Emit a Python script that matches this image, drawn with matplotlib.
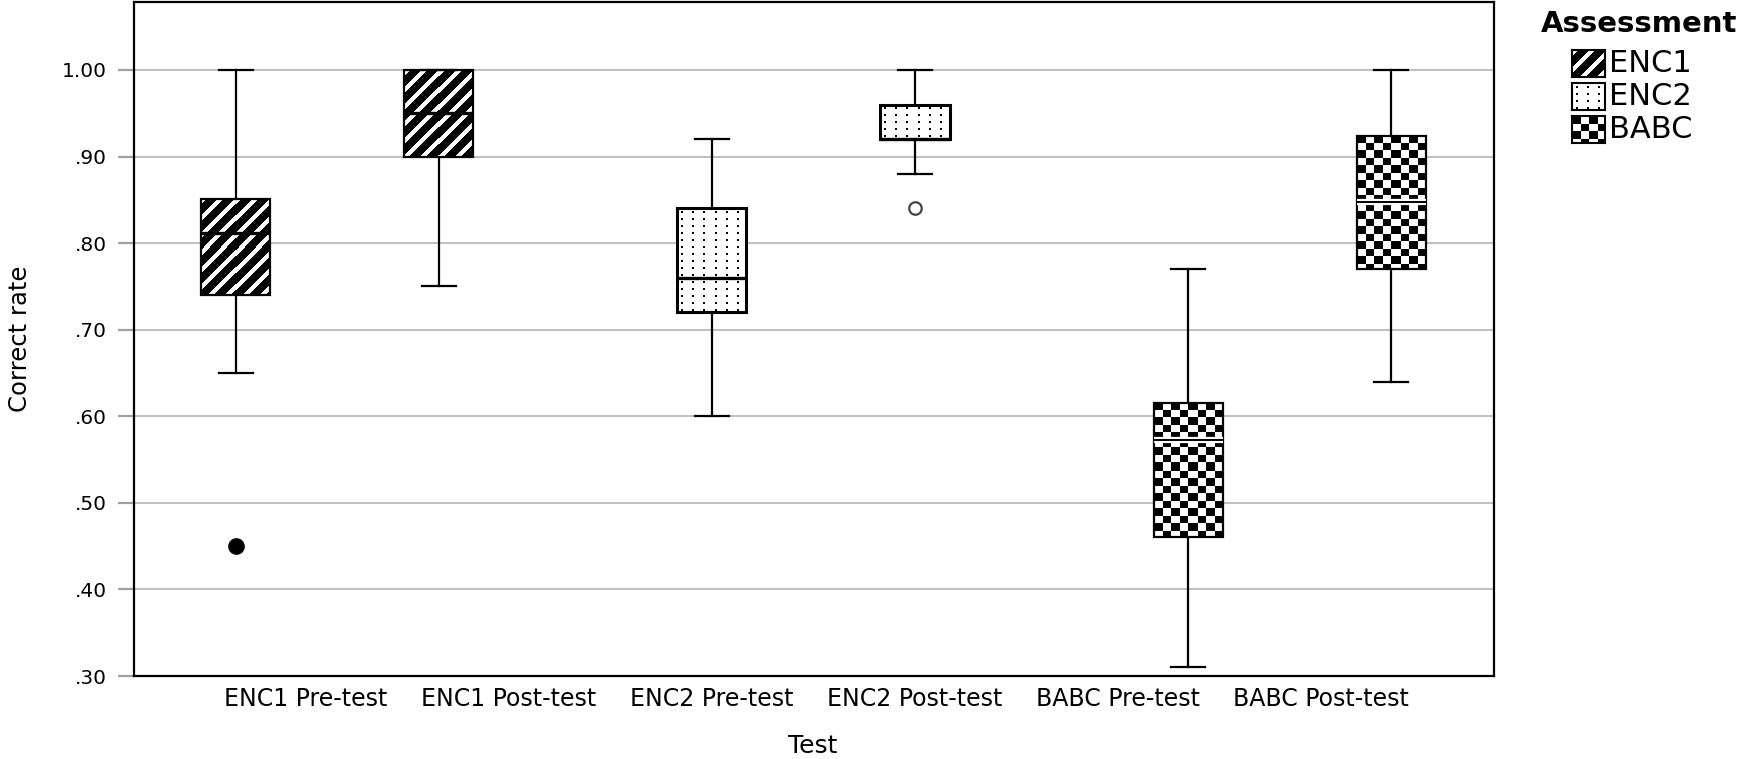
import numpy as np
import matplotlib
matplotlib.use("Agg")
import matplotlib.pyplot as plt
from matplotlib.ticker import FixedLocator, FuncFormatter
import matplotlib.patheffects as pe

# ---------------- data ----------------
tests = ["ENC1 Pre-test", "ENC1 Post-test", "ENC2 Pre-test",
         "ENC2 Post-test", "BABC Pre-test", "BABC Post-test"]
test_assessment = ["ENC1", "ENC1", "ENC2", "ENC2", "BABC", "BABC"]
assessments = ["ENC1", "ENC2", "BABC"]

whisker_low = [0.65, 0.75, 0.60, 0.88, 0.31, 0.64]
q1 = [0.74, 0.90, 0.72, 0.92, 0.46, 0.77]
median = [0.812, 0.95, 0.76, 0.92, 0.573, 0.847]
q3 = [0.851, 1.00, 0.84, 0.96, 0.615, 0.924]
whisker_high = [1.00, 1.00, 0.92, 1.00, 0.77, 1.00]
extreme_values = [[0.45], [], [], [], [], []]     # filled marker
outlier_values = [[], [], [], [0.84], [], []]     # open circle

y_ticks = [0.30, 0.40, 0.50, 0.60, 0.70, 0.80, 0.90, 1.00]

# ---------------- layout ----------------
W, H, DPI = 1741, 759, 100
plt.rcParams['font.family'] = ['DejaVu Sans']
fig = plt.figure(figsize=(W / DPI, H / DPI), dpi=DPI)
fig.patch.set_facecolor("white")
ax = fig.add_axes([134 / W, (H - 676) / H, (1494 - 134) / W, (676 - 2) / H])
XLIM = (-0.847, 5.852)
YLIM = (0.30, 1.0785)
ax.set_xlim(*XLIM)
ax.set_ylim(*YLIM)

offsets = {"ENC1": -0.345, "ENC2": 0.0, "BABC": 0.345}
box_w = 0.34


def texture(kind, w, h):
    yy, xx = np.mgrid[0:h, 0:w]
    if kind == "ENC1":
        arr = np.where(((xx + yy) % 17) < 6, 1.0, 0.0)
    elif kind == "ENC2":
        arr = np.ones((h, w))
        dots = (((xx - 4) % 11) < 2) & (((yy - 3) % 7) < 2)
        arr[dots] = 0.0
    else:
        arr = (((xx * 2 // 17) + (yy * 2 // 15)) % 2).astype(float)
    return arr


positions = [i + offsets[a] for i, a in enumerate(test_assessment)]

# textures inside the boxes
for i, a in enumerate(test_assessment):
    x0, x1 = positions[i] - box_w / 2, positions[i] + box_w / 2
    y0, y1 = q1[i], q3[i]
    (px0, py0), (px1, py1) = ax.transData.transform([(x0, y0), (x1, y1)])
    w = max(int(round(px1 - px0)), 1)
    h = max(int(round(py1 - py0)), 1)
    ax.imshow(texture(a, w, h), cmap="gray", vmin=0, vmax=1,
              extent=(x0, x1, y0, y1), interpolation="nearest",
              aspect="auto", zorder=2)

ax.set_xlim(*XLIM)
ax.set_ylim(*YLIM)

stats = []
for i in range(len(tests)):
    stats.append(dict(med=median[i], q1=q1[i], q3=q3[i],
                      whislo=whisker_low[i], whishi=whisker_high[i],
                      fliers=[], label=tests[i]))

bp = ax.bxp(stats, positions=positions, widths=box_w, capwidths=box_w / 2,
            patch_artist=True, showfliers=False, manage_ticks=False,
            boxprops=dict(facecolor="none", edgecolor="black", linewidth=1.6),
            whiskerprops=dict(color="black", linewidth=1.6),
            capprops=dict(color="black", linewidth=1.6),
            medianprops=dict(color="black", linewidth=2.4),
            zorder=3)

for i, a in enumerate(test_assessment):
    if a == "BABC":
        bp["medians"][i].set_linewidth(1.4)
        bp["medians"][i].set_path_effects(
            [pe.withStroke(linewidth=4.5, foreground="white")])
    if a == "ENC2":
        bp["boxes"][i].set_linewidth(2.2)

for i in range(len(tests)):
    if extreme_values[i]:
        ax.plot([positions[i]] * len(extreme_values[i]), extreme_values[i],
                linestyle="none", marker="o", markersize=11,
                markerfacecolor="black", markeredgecolor="black", zorder=4)
    if outlier_values[i]:
        ax.plot([positions[i]] * len(outlier_values[i]), outlier_values[i],
                linestyle="none", marker="o", markersize=9,
                markerfacecolor="white", markeredgecolor="#444444",
                markeredgewidth=1.6, zorder=4)

# axes styling
ax.set_axisbelow(True)
ax.yaxis.set_major_locator(FixedLocator(y_ticks))
ax.yaxis.set_major_formatter(FuncFormatter(
    lambda v, p: ("%.2f" % v).lstrip("0") if v < 1 else "%.2f" % v))
ax.grid(axis="y", color="#b4b4b4", linewidth=1.2)
ax.set_xticks(range(len(tests)))
ax.set_xticklabels(tests, fontsize=17)
ax.tick_params(axis="x", length=0, pad=8)
ax.tick_params(axis="y", length=11.5, width=1.6, color="#a0a0a0",
               labelsize=14.5, pad=8)
for s in ax.spines.values():
    s.set_linewidth(1.6)
    s.set_color("black")

fig.text(20 / W, 1 - 339 / H, "Correct rate", rotation=90,
         ha="center", va="center", fontsize=17.5)
fig.text(813 / W, 1 - 746 / H, "Test", ha="center", va="center", fontsize=18)

# legend (manual)
fig.text(1541 / W, 1 - 32 / H, "Assessment", fontsize=21,
         fontweight="bold", va="baseline", ha="left")
sw_w, sw_h = 33, 27
row_tops = [50, 83, 116]
for a, top in zip(assessments, row_tops):
    sax = fig.add_axes([1572 / W, 1 - (top + sw_h) / H, sw_w / W, sw_h / H])
    sax.imshow(texture(a, sw_w, sw_h), cmap="gray", vmin=0, vmax=1,
               interpolation="nearest", aspect="auto")
    sax.set_xticks([])
    sax.set_yticks([])
    for s in sax.spines.values():
        s.set_linewidth(1.5)
        s.set_color("black")
    fig.text(1609 / W, 1 - (top + sw_h / 2) / H, a, fontsize=22,
             va="center", ha="left")

fig.savefig("out.png", dpi=DPI)
